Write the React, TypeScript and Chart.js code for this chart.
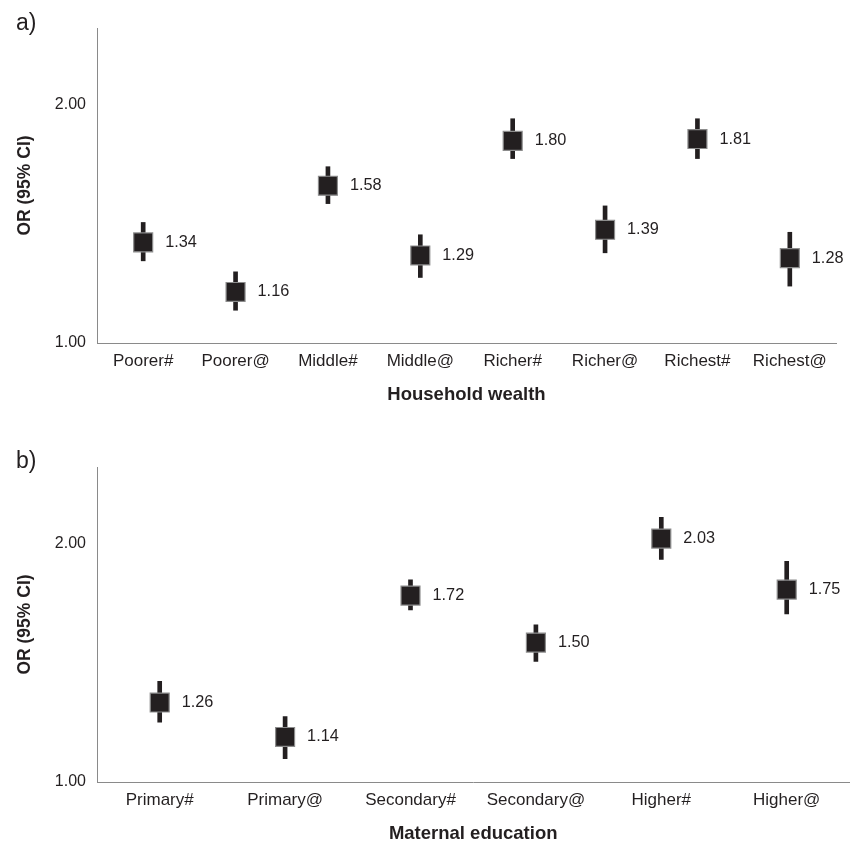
import React, { useEffect, useRef } from 'react';
import { Chart, registerables } from 'chart.js';

Chart.register(...registerables);

// ---- Panel a: Household wealth ----
const wealthCategories = ['Poorer#', 'Poorer@', 'Middle#', 'Middle@', 'Richer#', 'Richer@', 'Richest#', 'Richest@'];
const wealthOR = [1.34, 1.16, 1.58, 1.29, 1.80, 1.39, 1.81, 1.28];
const wealthLower = [1.27, 1.10, 1.50, 1.21, 1.71, 1.30, 1.71, 1.18];
const wealthUpper = [1.42, 1.23, 1.67, 1.37, 1.92, 1.49, 1.92, 1.38];

// ---- Panel b: Maternal education ----
const eduCategories = ['Primary#', 'Primary@', 'Secondary#', 'Secondary@', 'Higher#', 'Higher@'];
const eduOR = [1.26, 1.14, 1.72, 1.50, 2.03, 1.75];
const eduLower = [1.19, 1.07, 1.65, 1.42, 1.91, 1.63];
const eduUpper = [1.34, 1.21, 1.80, 1.58, 2.16, 1.90];

const yTickValues = [1, 2];
const yMin = 1;
const yMax = 2.5;
const yTitle = 'OR (95% CI)';

const FONT = '"Liberation Sans", Arial, Helvetica, sans-serif';
const INK = '#231f20';
const AXIS = '#8a8a8a';

type PanelProps = {
  letter: string;
  categories: string[];
  or: number[];
  lower: number[];
  upper: number[];
  xTitle: string;
  width: number;
  height: number;
  padTop: number;
  padRight: number;
  xAxisHeight: number;
  xTitlePadBottom: number;
  letterBaseline: number;
};

function Panel(p: PanelProps) {
  const ref = useRef<HTMLCanvasElement>(null);
  useEffect(() => {
    if (!ref.current) return;
    const labelPlugin = {
      id: 'orLabels',
      afterDatasetsDraw(chart: any) {
        const ctx = chart.ctx;
        const meta = chart.getDatasetMeta(1);
        ctx.save();
        ctx.font = `16.3px ${FONT}`;
        ctx.fillStyle = INK;
        ctx.textAlign = 'left';
        ctx.textBaseline = 'middle';
        meta.data.forEach((pt: any, i: number) => {
          ctx.fillText(p.or[i].toFixed(2), pt.x + 22, pt.y);
        });
        ctx.font = `23px ${FONT}`;
        ctx.textBaseline = 'alphabetic';
        ctx.fillText(p.letter, 16, p.letterBaseline);
        ctx.restore();
      },
    };
    const chart = new Chart(ref.current, {
      type: 'bar',
      data: {
        labels: p.categories,
        datasets: [
          {
            type: 'bar',
            label: '95% CI',
            data: p.categories.map((_, i) => [p.lower[i], p.upper[i]]),
            backgroundColor: INK,
            borderWidth: 0,
            barThickness: 4,
            order: 2,
          } as any,
          {
            type: 'line',
            label: 'OR',
            data: p.or,
            showLine: false,
            pointStyle: 'rect',
            pointRadius: 13.4,
            pointBackgroundColor: INK,
            pointBorderColor: '#8c8c8c',
            pointBorderWidth: 1.2,
            order: 1,
          } as any,
        ],
      },
      options: {
        responsive: false,
        animation: false,
        events: [],
        layout: { padding: { left: 0, top: p.padTop, right: p.padRight, bottom: 0 } },
        plugins: { legend: { display: false }, tooltip: { enabled: false } },
        scales: {
          x: {
            type: 'category',
            offset: true,
            grid: { display: false, drawTicks: false },
            border: { display: true, color: AXIS, width: 1 },
            ticks: { color: INK, font: { family: FONT, size: 17 }, padding: 8, maxRotation: 0, autoSkip: false },
            title: {
              display: true,
              text: p.xTitle,
              color: INK,
              font: { family: FONT, size: 18.5, weight: 'bold' },
              padding: { top: 0, bottom: p.xTitlePadBottom },
            },
            afterFit: (s: any) => {
              s.height = p.xAxisHeight;
            },
          },
          y: {
            type: 'logarithmic',
            min: yMin,
            max: yMax,
            grid: { display: false, drawTicks: false },
            border: { display: true, color: AXIS, width: 1 },
            ticks: {
              color: INK,
              font: { family: FONT, size: 16 },
              padding: 11,
              callback: (v: any) => Number(v).toFixed(2),
            },
            afterBuildTicks: (s: any) => {
              s.ticks = yTickValues.map((v) => ({ value: v }));
            },
            title: {
              display: true,
              text: yTitle,
              color: INK,
              font: { family: FONT, size: 17.5, weight: 'bold' },
              padding: { top: 15, bottom: 0 },
            },
            afterFit: (s: any) => {
              s.width = 97;
            },
          },
        },
      } as any,
      plugins: [labelPlugin],
    });
    return () => chart.destroy();
  }, []);
  return (
    <canvas
      ref={ref}
      width={p.width}
      height={p.height}
      style={{ display: 'block', width: p.width, height: p.height }}
    />
  );
}

export default function App() {
  return (
    <div style={{ position: 'absolute', left: 0, top: 0, width: 864, height: 845, background: '#fff' }}>
      <div style={{ position: 'absolute', left: 0, top: 0 }}>
        <Panel
          letter="a)"
          categories={wealthCategories}
          or={wealthOR}
          lower={wealthLower}
          upper={wealthUpper}
          xTitle="Household wealth"
          width={864}
          height={420}
          padTop={28}
          padRight={28}
          xAxisHeight={77}
          xTitlePadBottom={14}
          letterBaseline={30}
        />
      </div>
      <div style={{ position: 'absolute', left: 0, top: 420 }}>
        <Panel
          letter="b)"
          categories={eduCategories}
          or={eduOR}
          lower={eduLower}
          upper={eduUpper}
          xTitle="Maternal education"
          width={864}
          height={425}
          padTop={47}
          padRight={9}
          xAxisHeight={63}
          xTitlePadBottom={0}
          letterBaseline={48}
        />
      </div>
    </div>
  );
}
